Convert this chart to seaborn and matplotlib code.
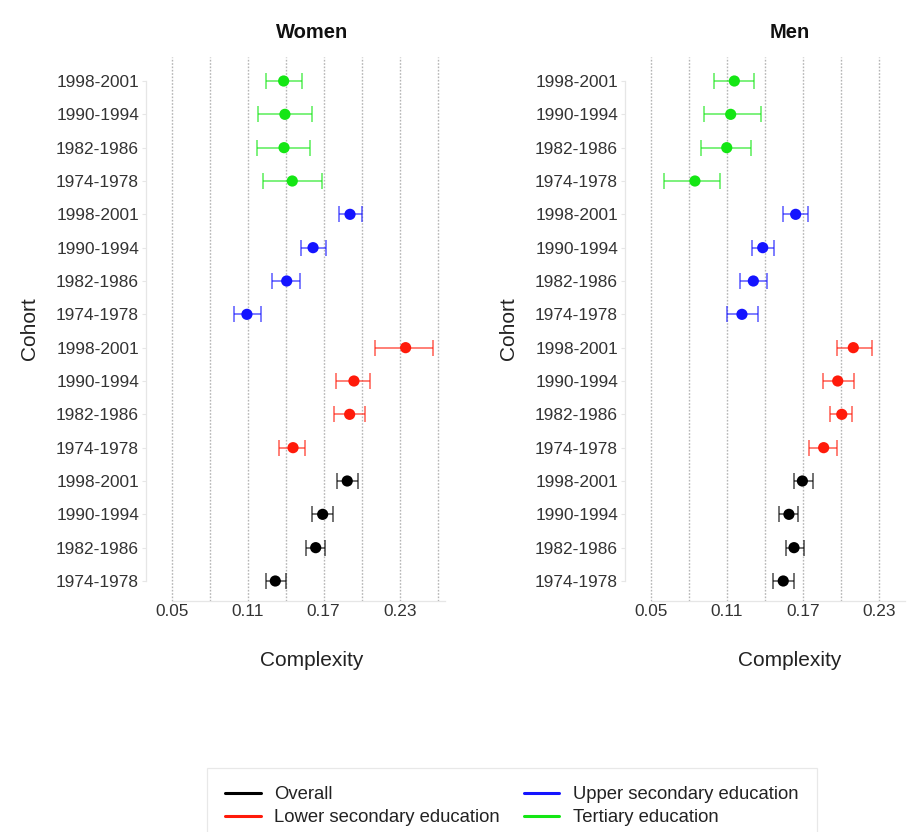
import numpy as np
import pandas as pd
import matplotlib
matplotlib.use("Agg")
import matplotlib.pyplot as plt
from matplotlib.lines import Line2D
import seaborn as sns

# Cohorts, listed top to bottom within each education group
cohorts = ["1998-2001", "1990-1994", "1982-1986", "1974-1978"]
groups = ["Tertiary education", "Upper secondary education",
          "Lower secondary education", "Overall"]
group_colors = {
    "Overall": "#000000",
    "Lower secondary education": "#ff1a0a",
    "Upper secondary education": "#1414ff",
    "Tertiary education": "#14e614",
}
legend_order = ["Overall", "Lower secondary education",
                "Upper secondary education", "Tertiary education"]

# Women: estimate, lower and upper bound per group (cohort order as above)
women_tertiary = [0.1384, 0.1394, 0.1387, 0.1452]
women_tertiary_lo = [0.1245, 0.1184, 0.1171, 0.1223]
women_tertiary_hi = [0.1531, 0.1610, 0.1589, 0.1684]
women_upper = [0.1908, 0.1616, 0.1408, 0.1094]
women_upper_lo = [0.1818, 0.1518, 0.1294, 0.0992]
women_upper_hi = [0.2003, 0.1718, 0.1515, 0.1205]
women_lower = [0.2347, 0.1939, 0.1905, 0.1458]
women_lower_lo = [0.2105, 0.1795, 0.1784, 0.1350]
women_lower_hi = [0.2563, 0.2068, 0.2024, 0.1555]
women_overall = [0.1886, 0.1692, 0.1637, 0.1318]
women_overall_lo = [0.1805, 0.1608, 0.1558, 0.1245]
women_overall_hi = [0.1968, 0.1771, 0.1713, 0.1400]

# Men
men_tertiary = [0.1158, 0.1129, 0.1098, 0.0847]
men_tertiary_lo = [0.0997, 0.0921, 0.0892, 0.0605]
men_tertiary_hi = [0.1316, 0.1371, 0.1292, 0.1047]
men_upper = [0.1642, 0.1382, 0.1308, 0.1218]
men_upper_lo = [0.1545, 0.1297, 0.1203, 0.1102]
men_upper_hi = [0.1740, 0.1471, 0.1416, 0.1342]
men_lower = [0.2097, 0.1974, 0.2006, 0.1863]
men_lower_lo = [0.1968, 0.1861, 0.1913, 0.1750]
men_lower_hi = [0.2245, 0.2100, 0.2087, 0.1966]
men_overall = [0.1695, 0.1589, 0.1629, 0.1544]
men_overall_lo = [0.1627, 0.1513, 0.1563, 0.1466]
men_overall_hi = [0.1779, 0.1663, 0.1705, 0.1627]

x_ticks = [0.05, 0.11, 0.17, 0.23]
x_minor = [0.08, 0.14, 0.20, 0.26]


def build_frame(est, lo, hi):
    rows = []
    for g in groups:
        for c, e, l, h in zip(cohorts, est[g], lo[g], hi[g]):
            rows.append({"group": g, "cohort": c, "est": e, "lo": l, "hi": h})
    df = pd.DataFrame(rows)
    df["row"] = np.arange(len(df))
    return df


women = build_frame(
    {"Tertiary education": women_tertiary, "Upper secondary education": women_upper,
     "Lower secondary education": women_lower, "Overall": women_overall},
    {"Tertiary education": women_tertiary_lo, "Upper secondary education": women_upper_lo,
     "Lower secondary education": women_lower_lo, "Overall": women_overall_lo},
    {"Tertiary education": women_tertiary_hi, "Upper secondary education": women_upper_hi,
     "Lower secondary education": women_lower_hi, "Overall": women_overall_hi},
)
men = build_frame(
    {"Tertiary education": men_tertiary, "Upper secondary education": men_upper,
     "Lower secondary education": men_lower, "Overall": men_overall},
    {"Tertiary education": men_tertiary_lo, "Upper secondary education": men_upper_lo,
     "Lower secondary education": men_lower_lo, "Overall": men_overall_lo},
    {"Tertiary education": men_tertiary_hi, "Upper secondary education": men_upper_hi,
     "Lower secondary education": men_lower_hi, "Overall": men_overall_hi},
)

sns.set_theme(style="white")
plt.rcParams["font.family"] = ["Liberation Sans", "DejaVu Sans"]

W, H = 908, 832
fig = plt.figure(figsize=(W / 100, H / 100), dpi=100)
ax_w = fig.add_axes([146 / W, 1 - 601 / H, (445 - 146) / W, (601 - 57) / H])
ax_m = fig.add_axes([625 / W, 1 - 601 / H, (905 - 625) / W, (601 - 57) / H])

# (axes, data, title, x-limits, centre of title / x label in pixels)
panels = [(ax_w, women, "Women", (0.0297, 0.2658), 312),
          (ax_m, men, "Men", (0.0295, 0.2505), 790)]

spine_col = "#e6e6e6"
for ax, df, title, xlim, cx in panels:
    for g in groups:
        sub = df[df["group"] == g]
        col = group_colors[g]
        ax.errorbar(sub["est"], sub["row"],
                    xerr=[sub["est"] - sub["lo"], sub["hi"] - sub["est"]],
                    fmt="none", ecolor=col, alpha=0.6, elinewidth=1.3,
                    capsize=5.5, capthick=1.3, zorder=2)
    sns.scatterplot(data=df, x="est", y="row", hue="group",
                    palette=group_colors, s=65, edgecolor="none",
                    legend=False, ax=ax, zorder=3)

    ax.set_yticks(df["row"])
    ax.set_yticklabels(df["cohort"], fontsize=12.4, color="#333333")
    ax.set_xticks(x_ticks)
    ax.set_xticklabels([f"{t:.2f}" for t in x_ticks], fontsize=12.4, color="#333333")
    ax.set_xticks(x_minor, minor=True)
    ax.set_xlim(*xlim)
    ax.set_ylim(len(df) - 1 + 0.6, -0.72)
    ax.grid(axis="x", which="both", color="#b5b5b5", linestyle=(0, (1.2, 1.2)),
            linewidth=1.0, zorder=0)
    ax.grid(axis="y", visible=False)
    ax.tick_params(axis="y", which="major", left=True, length=3, width=0.8,
                   color=spine_col, pad=2)
    ax.tick_params(axis="x", which="both", bottom=False, length=0, pad=2)
    for side in ("top", "right"):
        ax.spines[side].set_visible(False)
    ax.spines["left"].set_color(spine_col)
    ax.spines["left"].set_linewidth(0.9)
    ax.spines["left"].set_bounds(0, len(df) - 1)
    ax.spines["bottom"].set_color(spine_col)
    ax.spines["bottom"].set_linewidth(0.9)
    ax.spines["bottom"].set_bounds(0.05, xlim[1])
    ax.set_xlabel("")
    ax.set_ylabel("Cohort", fontsize=15, labelpad=12, color="#222222")
    fig.text(cx / W, 1 - 32 / H, title, fontsize=14.5, fontweight="bold",
             ha="center", va="center", color="#111111")
    fig.text(cx / W, 1 - 660 / H, "Complexity", fontsize=15,
             ha="center", va="center", color="#222222")

handles = [Line2D([0], [0], color=group_colors[g], lw=2.2) for g in legend_order]
leg = fig.legend(handles, legend_order, ncol=2, loc="upper left",
                 bbox_to_anchor=(207 / W, 1 - 768 / H),
                 fontsize=13.3, frameon=True, fancybox=False,
                 edgecolor="#e3e3e3", handlelength=1.9, handletextpad=0.75,
                 columnspacing=1.3, labelspacing=0.3, borderpad=1.0,
                 borderaxespad=0)
leg.get_frame().set_linewidth(0.9)
for t in leg.get_texts():
    t.set_color("#222222")

fig.savefig("out.png", dpi=100, facecolor="white")
